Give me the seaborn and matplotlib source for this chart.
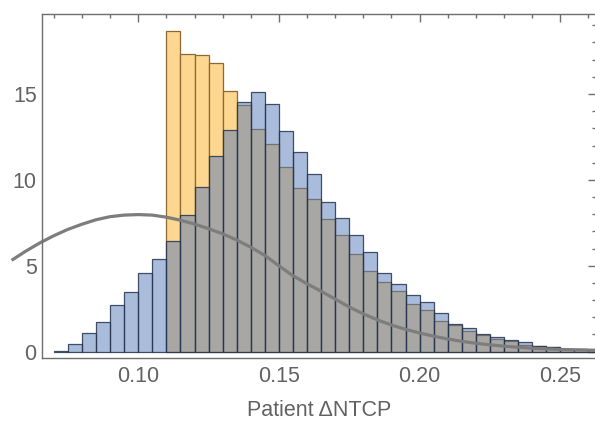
import numpy as np
import pandas as pd
import matplotlib
matplotlib.use("Agg")
import matplotlib.pyplot as plt
from matplotlib.ticker import MultipleLocator, FixedLocator
import seaborn as sns

# Histogram bins (left edges, width 0.005) and density heights
bin_width = 0.005
blue_left = np.round(np.arange(0.070, 0.2601, bin_width), 3)
blue_density = [0.04, 0.47, 1.07, 1.73, 2.74, 3.48, 4.58, 5.38,
                6.47, 7.98, 9.57, 11.38, 12.89, 14.52, 15.13, 14.39,
                12.85, 11.61, 10.37, 8.72, 7.77, 6.78, 5.79, 4.56,
                3.92, 3.32, 2.87, 2.27, 1.59, 1.40, 1.01, 0.87,
                0.68, 0.55, 0.35, 0.25, 0.17, 0.14, 0.12]

orange_left = np.round(np.arange(0.110, 0.2601, bin_width), 3)
orange_density = [18.64, 17.34, 17.28, 16.83, 15.15, 14.35, 12.97, 12.08,
                  10.76, 9.51, 8.91, 7.71, 6.78, 5.67, 4.72, 4.04,
                  3.51, 2.76, 2.45, 1.77, 1.57, 1.19, 0.99, 0.72,
                  0.62, 0.41, 0.33, 0.27, 0.16, 0.13, 0.11]

# Reference density curve
curve_x = [0.055, 0.060, 0.065, 0.070, 0.075, 0.080, 0.085, 0.090, 0.095,
           0.100, 0.105, 0.110, 0.115, 0.120, 0.125, 0.130, 0.135, 0.140,
           0.145, 0.150, 0.155, 0.160, 0.165, 0.170, 0.175, 0.180, 0.185,
           0.190, 0.195, 0.200, 0.205, 0.210, 0.215, 0.220, 0.225, 0.230,
           0.235, 0.240, 0.245, 0.250, 0.255, 0.260, 0.265]
curve_y = [5.32, 5.85, 6.33, 6.75, 7.12, 7.42, 7.68, 7.86, 7.95,
           7.98, 7.95, 7.83, 7.65, 7.43, 7.16, 6.86, 6.50, 6.08,
           5.60, 5.00, 4.42, 3.95, 3.52, 3.06, 2.60, 2.20, 1.85,
           1.55, 1.30, 1.09, 0.90, 0.74, 0.60, 0.49, 0.40, 0.32,
           0.26, 0.20, 0.16, 0.13, 0.11, 0.09, 0.08]

x_ticks = [0.10, 0.15, 0.20, 0.25]
x_tick_labels = ["0.10", "0.15", "0.20", "0.25"]
y_ticks = [0, 5, 10, 15]
x_label = "Patient \u0394NTCP"

sns.set_style("white")
plt.rcParams["font.family"] = ["Liberation Sans", "DejaVu Sans"]

fig = plt.figure(figsize=(5.95, 4.23), dpi=100)
ax = fig.add_axes([0.0711, 0.1544, 0.9306, 0.8118])

frame_col = "#6e6e6e"
text_col = "#626262"

orange_df = pd.DataFrame({"x": orange_left + bin_width / 2, "w": orange_density})
blue_df = pd.DataFrame({"x": blue_left + bin_width / 2, "w": blue_density})
curve_df = pd.DataFrame({"x": curve_x, "y": curve_y})

# Orange histogram drawn first, translucent blue one layered over it
sns.histplot(data=orange_df, x="x", weights="w", binwidth=bin_width,
             binrange=(orange_left[0], orange_left[-1] + bin_width),
             ax=ax, stat="count")
n_orange = len(ax.patches)
sns.histplot(data=blue_df, x="x", weights="w", binwidth=bin_width,
             binrange=(blue_left[0], blue_left[-1] + bin_width),
             ax=ax, stat="count")

for i, p in enumerate(ax.patches):
    p.set_alpha(None)
    p.set_linewidth(0.9)
    if i < n_orange:
        p.set_facecolor("#fdd690")
        p.set_edgecolor("#8a6a30")
    else:
        p.set_facecolor((0.340, 0.478, 0.720, 0.5))
        p.set_edgecolor((0.14, 0.20, 0.31, 0.85))

sns.lineplot(data=curve_df, x="x", y="y", ax=ax, color="#7d7d7d",
             linewidth=2.3, sort=False)
for ln in ax.lines:
    ln.set_clip_on(False)
    ln.set_solid_capstyle("butt")

ax.set_xlim(0.0659, 0.2627)
ax.set_ylim(-0.35, 19.64)

ax.xaxis.set_major_locator(FixedLocator(x_ticks))
ax.set_xticklabels(x_tick_labels)
ax.xaxis.set_minor_locator(MultipleLocator(0.01))
ax.yaxis.set_major_locator(FixedLocator(y_ticks))
ax.yaxis.set_minor_locator(MultipleLocator(1))

ax.tick_params(which="both", direction="in", top=True, right=True,
               color=frame_col, width=1.0, labelcolor=text_col,
               labelsize=15.5)
ax.tick_params(which="major", length=5.5)
ax.tick_params(which="minor", length=3)
ax.tick_params(axis="x", which="major", pad=6)
ax.tick_params(axis="y", which="major", pad=4)

for name, s in ax.spines.items():
    s.set_visible(name != "right")
    s.set_color(frame_col)
    s.set_linewidth(1.0)

ax.set_xlabel(x_label, fontsize=15.5, color=text_col, labelpad=9)
ax.set_ylabel("")

fig.savefig("out.png", dpi=100)
